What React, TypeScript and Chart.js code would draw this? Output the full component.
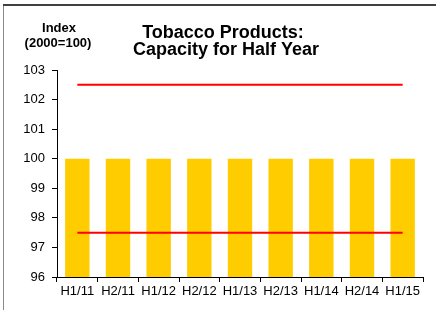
import React, { useEffect, useRef } from "react";
import { Chart, registerables } from "chart.js";

Chart.register(...registerables);

const categories = ["H1/11", "H2/11", "H1/12", "H2/12", "H1/13", "H2/13", "H1/14", "H2/14", "H1/15"];
const capacityValues = [100, 100, 100, 100, 100, 100, 100, 100, 100];
const upperLine = [102.5, 102.5, 102.5, 102.5, 102.5, 102.5, 102.5, 102.5, 102.5];
const lowerLine = [97.5, 97.5, 97.5, 97.5, 97.5, 97.5, 97.5, 97.5, 97.5];
const titleLines = ["Tobacco Products:", "Capacity for Half Year"];
const unitLines = ["Index", "(2000=100)"];
const yMin = 96;
const yMax = 103;

const FONT = "'Liberation Sans', Arial, sans-serif";

const decorPlugin = {
  id: "decor",
  beforeDraw(chart: any) {
    const ctx = chart.ctx;
    ctx.save();
    ctx.fillStyle = "#ffffff";
    ctx.fillRect(0, 0, chart.width, chart.height);
    ctx.fillStyle = "#8a8a8a";
    ctx.fillRect(3, 4, 1, chart.height - 4);
    ctx.fillStyle = "#404040";
    ctx.fillRect(3, 4, chart.width - 3, 2);
    ctx.restore();
  },
  afterDraw(chart: any) {
    const ctx = chart.ctx;
    ctx.save();
    ctx.fillStyle = "#000";
    ctx.textAlign = "center";
    ctx.textBaseline = "alphabetic";
    ctx.font = "bold 18px " + FONT;
    ctx.fillText(titleLines[0], 223, 38);
    ctx.fillText(titleLines[1], 226, 55);
    ctx.font = "bold 13px " + FONT;
    ctx.fillText(unitLines[0], 59, 32);
    ctx.fillText(unitLines[1], 58, 47);
    ctx.restore();
  },
};

export default function App() {
  const ref = useRef<HTMLCanvasElement>(null);
  useEffect(() => {
    const chart = new Chart(ref.current as HTMLCanvasElement, {
      type: "bar",
      data: {
        labels: categories,
        datasets: [
          {
            type: "line",
            data: upperLine,
            borderColor: "#FF0000",
            borderWidth: 2,
            pointRadius: 0,
            fill: false,
            order: 0,
          } as any,
          {
            type: "line",
            data: lowerLine,
            borderColor: "#FF0000",
            borderWidth: 2,
            pointRadius: 0,
            fill: false,
            order: 0,
          } as any,
          {
            type: "bar",
            data: capacityValues,
            backgroundColor: "#FFCC00",
            borderWidth: 0,
            barPercentage: 0.6,
            categoryPercentage: 1.0,
            order: 1,
          },
        ],
      },
      options: {
        animation: false,
        responsive: false,
        maintainAspectRatio: false,
        layout: { padding: { top: 70, right: 13, left: 0, bottom: 0 } },
        plugins: { legend: { display: false }, tooltip: { enabled: false }, title: { display: false } },
        scales: {
          x: {
            grid: { offset: true, drawOnChartArea: false, drawTicks: true, tickLength: 5, color: "#000" },
            border: { color: "#000", width: 1 },
            ticks: { color: "#000", font: { family: FONT, size: 13 }, padding: 2, maxRotation: 0, autoSkip: false },
            afterFit: (s: any) => {
              s.height = 33;
            },
          },
          y: {
            min: yMin,
            max: yMax,
            grid: { drawOnChartArea: false, drawTicks: true, tickLength: 5, color: "#000" },
            border: { color: "#000", width: 1 },
            ticks: { stepSize: 1, color: "#000", font: { family: FONT, size: 13 }, padding: 7 },
            afterFit: (s: any) => {
              s.width = 57;
            },
          },
        },
      },
      plugins: [decorPlugin],
    });
    return () => chart.destroy();
  }, []);
  return (
    <div style={{ position: "fixed", left: 0, top: 0, width: 436, height: 310, background: "#fff" }}>
      <canvas ref={ref} width={436} height={310} style={{ width: 436, height: 310, display: "block" }} />
    </div>
  );
}
